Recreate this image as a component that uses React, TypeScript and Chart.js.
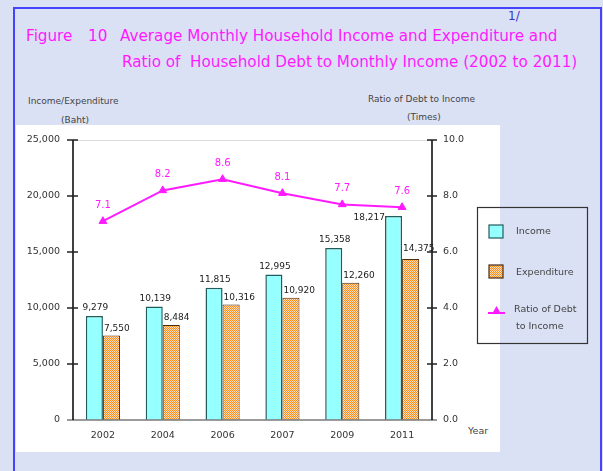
import React, { useEffect, useRef } from "react";
import { Chart, registerables } from "chart.js";

Chart.register(...registerables);

const years = ["2002", "2004", "2006", "2007", "2009", "2011"];
const income = [9279, 10139, 11815, 12995, 15358, 18217];
const expenditure = [7550, 8484, 10316, 10920, 12260, 14375];
const debtRatio = [7.1, 8.2, 8.6, 8.1, 7.7, 7.6];
const legendLabels = [["Income"], ["Expenditure"], ["Ratio of Debt", "to Income"]];

const FONT = "'DejaVu Sans', Verdana, sans-serif";
const MAGENTA = "#ff1aff";
const INCOME_FILL = "#96ffff";
const INCOME_BORDER = "#245c5c";
const EXP_BORDER = "#4a2a10";

function makePattern(ctx: CanvasRenderingContext2D) {
  const pc = document.createElement("canvas");
  pc.width = 2;
  pc.height = 2;
  const p = pc.getContext("2d")!;
  p.fillStyle = "#ffe0bf";
  p.fillRect(0, 0, 2, 2);
  p.fillStyle = "#ff8a1a";
  p.fillRect(0, 0, 1, 1);
  p.fillRect(1, 1, 1, 1);
  return ctx.createPattern(pc, "repeat")!;
}

export default function App() {
  const ref = useRef<HTMLCanvasElement>(null);

  useEffect(() => {
    const canvas = ref.current!;
    const ctx0 = canvas.getContext("2d")!;
    const pattern = makePattern(ctx0);

    const line = (ctx: CanvasRenderingContext2D, x1: number, y1: number, x2: number, y2: number) => {
      ctx.beginPath();
      ctx.moveTo(x1, y1);
      ctx.lineTo(x2, y2);
      ctx.stroke();
    };

    const decor = {
      id: "decor",
      afterDatasetsDraw(chart: any) {
        const { ctx, chartArea: a, scales } = chart;
        ctx.save();
        ctx.strokeStyle = "#dcdcdc";
        ctx.lineWidth = 1;
        line(ctx, a.left, a.top + 0.5, a.right, a.top + 0.5);
        ctx.strokeStyle = "#7a7a7a";
        ctx.lineWidth = 1.5;
        line(ctx, a.left - 6, a.bottom, a.right + 5, a.bottom);
        ctx.strokeStyle = "#000";
        ctx.lineWidth = 1.5;
        line(ctx, a.left, a.top, a.left, a.bottom);
        line(ctx, a.right, a.top, a.right, a.bottom);
        ctx.strokeStyle = "#222";
        scales.y.ticks.forEach((t: any) => {
          const y = scales.y.getPixelForValue(t.value);
          if (t.value > 0) line(ctx, a.left - 6, y, a.left + 5, y);
        });
        scales.y1.ticks.forEach((t: any) => {
          const y = scales.y1.getPixelForValue(t.value);
          if (t.value > 0) line(ctx, a.right - 5, y, a.right + 5, y);
        });

        // data labels
        ctx.font = `9px ${FONT}`;
        ctx.fillStyle = "#1a1a1a";
        ctx.textBaseline = "middle";
        const m0 = chart.getDatasetMeta(0);
        m0.data.forEach((el: any, j: number) => {
          const txt = income[j].toLocaleString("en-US");
          if (j === income.length - 1) {
            ctx.textAlign = "right";
            ctx.fillText(txt, el.x - el.width / 2, el.y + 2);
          } else {
            ctx.textAlign = "center";
            ctx.fillText(txt, el.x + 1, el.y - 8);
          }
        });
        const m1 = chart.getDatasetMeta(1);
        m1.data.forEach((el: any, j: number) => {
          const txt = expenditure[j].toLocaleString("en-US");
          ctx.textAlign = "left";
          const dy = j === expenditure.length - 1 ? 10 : 7;
          ctx.fillText(txt, el.x - el.width / 2 + 1, el.y - dy);
        });
        const m2 = chart.getDatasetMeta(2);
        ctx.fillStyle = MAGENTA;
        ctx.font = `10px ${FONT}`;
        ctx.textAlign = "center";
        m2.data.forEach((el: any, j: number) => {
          ctx.fillText(debtRatio[j].toFixed(1), el.x, el.y - 16);
        });
        ctx.restore();
      },
      afterDraw(chart: any) {
        const { ctx } = chart;
        ctx.save();
        ctx.strokeStyle = "#333";
        ctx.lineWidth = 1.2;
        ctx.strokeRect(477.5, 207.5, 110, 136);
        // income
        ctx.fillStyle = INCOME_FILL;
        ctx.fillRect(489, 225, 14, 13);
        ctx.strokeStyle = INCOME_BORDER;
        ctx.lineWidth = 1.2;
        ctx.strokeRect(489, 225, 14, 13);
        // expenditure
        ctx.fillStyle = pattern;
        ctx.fillRect(489, 265, 14, 13);
        ctx.strokeStyle = EXP_BORDER;
        ctx.strokeRect(489, 265, 14, 13);
        // ratio
        ctx.strokeStyle = MAGENTA;
        ctx.lineWidth = 2;
        line(ctx, 488, 313, 505, 313);
        ctx.fillStyle = MAGENTA;
        ctx.beginPath();
        ctx.moveTo(496.5, 306);
        ctx.lineTo(501, 314);
        ctx.lineTo(492, 314);
        ctx.closePath();
        ctx.fill();

        ctx.font = `9.5px ${FONT}`;
        ctx.fillStyle = "#444";
        ctx.textAlign = "left";
        ctx.textBaseline = "middle";
        ctx.fillText(legendLabels[0][0], 516, 232);
        ctx.fillText(legendLabels[1][0], 516, 273);
        ctx.fillText(legendLabels[2][0], 514, 310);
        ctx.fillText(legendLabels[2][1], 516, 327);
        ctx.restore();
      },
    };

    const chart = new Chart(canvas, {
      type: "bar",
      data: {
        labels: years,
        datasets: [
          {
            type: "bar",
            label: "Income",
            data: income,
            backgroundColor: INCOME_FILL,
            borderColor: INCOME_BORDER,
            borderWidth: 1.5,
            borderSkipped: "bottom",
            categoryPercentage: 0.57,
            barPercentage: 1,
            yAxisID: "y",
            order: 2,
          },
          {
            type: "bar",
            label: "Expenditure",
            data: expenditure,
            backgroundColor: pattern as any,
            borderColor: EXP_BORDER,
            borderWidth: 1,
            borderSkipped: "bottom",
            categoryPercentage: 0.57,
            barPercentage: 1,
            yAxisID: "y",
            order: 2,
          },
          {
            type: "line",
            label: "Ratio of Debt to Income",
            data: debtRatio,
            borderColor: MAGENTA,
            backgroundColor: MAGENTA,
            borderWidth: 2,
            pointStyle: "triangle",
            pointRadius: 4.5,
            pointBorderWidth: 1,
            pointBackgroundColor: MAGENTA,
            pointBorderColor: MAGENTA,
            yAxisID: "y1",
            order: 0,
          } as any,
        ],
      },
      options: {
        responsive: false,
        animation: false,
        layout: { padding: { top: 140, right: 131, left: 0, bottom: 0 } },
        plugins: {
          legend: { display: false },
          tooltip: { enabled: false },
          title: { display: false },
        },
        scales: {
          x: {
            grid: { display: false, drawTicks: false },
            border: { display: false },
            ticks: { font: { family: FONT, size: 9.5 }, color: "#333", padding: 10, maxRotation: 0 },
            afterFit: (s: any) => {
              s.height = 51;
            },
          },
          y: {
            position: "left",
            min: 0,
            max: 25000,
            grid: { display: false, drawTicks: false },
            border: { display: false },
            ticks: {
              stepSize: 5000,
              font: { family: FONT, size: 9.5 },
              color: "#333",
              padding: 13,
              callback: (v: any) => Number(v).toLocaleString("en-US"),
            },
            afterFit: (s: any) => {
              s.width = 73;
            },
          },
          y1: {
            position: "right",
            min: 0,
            max: 10,
            grid: { display: false, drawTicks: false },
            border: { display: false },
            ticks: {
              stepSize: 2,
              font: { family: FONT, size: 9.5 },
              color: "#333",
              padding: 11,
              callback: (v: any) => Number(v).toFixed(1),
            },
            afterFit: (s: any) => {
              s.width = 40;
            },
          },
        },
      },
      plugins: [decor],
    });
    return () => chart.destroy();
  }, []);

  const txt = (s: any) => ({ position: "absolute", whiteSpace: "pre", fontFamily: FONT, ...s } as React.CSSProperties);

  return (
    <div style={{ position: "absolute", left: 0, top: 0, width: 603, height: 471, overflow: "hidden", background: "#dbe1f5" }}>
      <div style={{ position: "absolute", left: 13, top: 7, width: 585, height: 520, border: "2px solid #4444ff", borderBottom: "none" }} />
      <div style={{ position: "absolute", left: 16, top: 125, width: 484, height: 327, background: "#ffffff" }} />
      <div style={txt({ left: 508, top: 9, fontSize: 12, color: "#3333cc" })}>1/</div>
      <div style={txt({ left: 26, top: 27, fontSize: 15.2, color: MAGENTA })}>Figure</div>
      <div style={txt({ left: 88, top: 27, fontSize: 15.2, color: MAGENTA })}>10</div>
      <div style={txt({ left: 120, top: 27, fontSize: 15.2, color: MAGENTA })}>Average Monthly Household Income and Expenditure and</div>
      <div style={txt({ left: 122, top: 53, fontSize: 15.2, color: MAGENTA })}>Ratio of  Household Debt to Monthly Income (2002 to 2011)</div>
      <div style={txt({ left: 28, top: 96, fontSize: 9, color: "#444" })}>Income/Expenditure</div>
      <div style={txt({ left: 61, top: 115, fontSize: 9, color: "#444" })}>(Baht)</div>
      <div style={txt({ left: 368, top: 94, fontSize: 9, color: "#444" })}>Ratio of Debt to Income</div>
      <div style={txt({ left: 407, top: 112, fontSize: 9, color: "#444" })}>(Times)</div>
      <div style={txt({ left: 468, top: 425, fontSize: 9.5, color: "#444" })}>Year</div>
      <canvas ref={ref} width={603} height={471} style={{ position: "absolute", left: 0, top: 0 }} />
    </div>
  );
}
